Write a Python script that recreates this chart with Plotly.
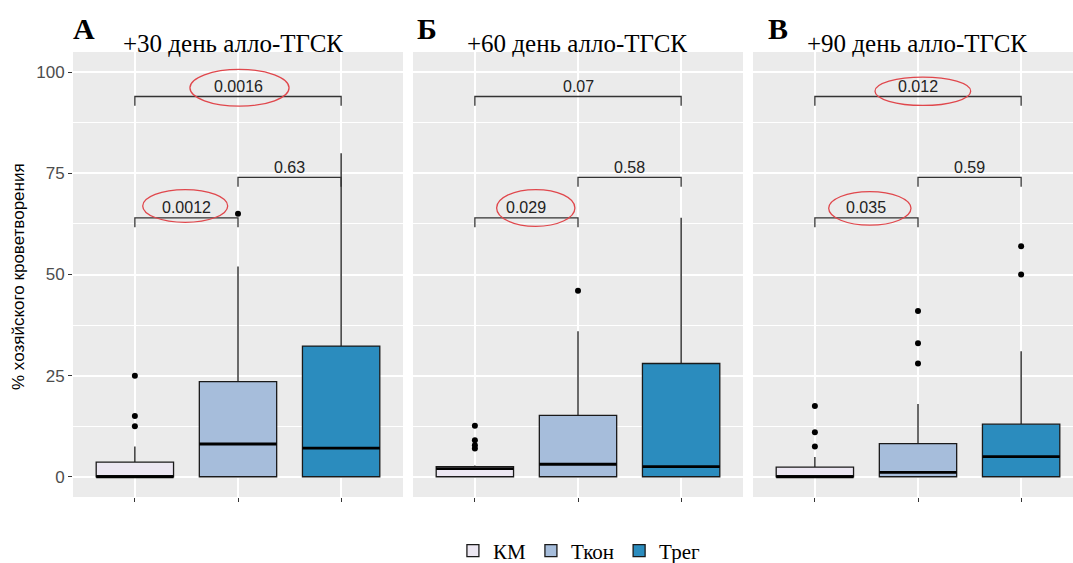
import plotly.graph_objects as go

W, H = 1073, 563

groups = ["КМ", "Ткон", "Трег"]
colors = ["#ECE7F2", "#A6BDDB", "#2B8CBE"]
positions = [1, 2, 3]

panel_letters = ["А", "Б", "В"]
panel_titles = ["+30 день алло-ТГСК", "+60 день алло-ТГСК", "+90 день алло-ТГСК"]

# box statistics per panel: [KM, Tkon, Treg]
q1 = [[0, 0, 0], [0, 0, 0], [0, 0, 0]]
median = [[0, 8.1, 7.1], [2.0, 3.1, 2.5], [0, 1.1, 5.0]]
q3 = [[3.6, 23.5, 32.3], [2.5, 15.2, 28.0], [2.4, 8.2, 13.0]]
lowerfence = [[0, 0, 0], [0, 0, 0], [0, 0, 0]]
upperfence = [[7.5, 52.0, 80.0], [2.8, 36.0, 64.0], [4.9, 18.0, 31.0]]
outliers = [
    [[25, 15, 12.5], [65], []],
    [[12.6, 9.0, 7.8, 7.0], [46], []],
    [[17.5, 11, 7.5], [41, 33, 28], [57, 50]],
]

# significance brackets
bracket_pairs = [(1, 3), (1, 2), (2, 3)]
bracket_heights = [94, 64, 74]
pvalues = [["0.0016", "0.0012", "0.63"], ["0.07", "0.029", "0.58"], ["0.012", "0.035", "0.59"]]
# red ellipses (panel, x0, x1, y0, y1) around significant p-values
ellipses = [
    (0, 1.534, 2.495, 91.6, 100.7),
    (0, 1.076, 1.900, 62.9, 71.0),
    (1, 1.211, 1.970, 61.9, 71.0),
    (2, 1.583, 2.511, 91.8, 98.8),
    (2, 1.134, 1.932, 62.2, 70.5),
]

y_ticks = [0, 25, 50, 75, 100]
y_minor = [12.5, 37.5, 62.5, 87.5]

# layout geometry (px)
panel_left = [73, 413, 753]
panel_w = 330
y_top, y_bot = 52, 497
unit = panel_w / 3.2

fig = go.Figure()
box_w = 0.75

for p in range(3):
    ax = "" if p == 0 else str(p + 1)
    for g in range(3):
        fig.add_trace(go.Box(
            x=[positions[g]], q1=[q1[p][g]], median=[median[p][g]], q3=[q3[p][g]],
            lowerfence=[lowerfence[p][g]], upperfence=[upperfence[p][g]],
            width=box_w, fillcolor=colors[g], line=dict(color="#1a1a1a", width=1.3),
            whiskerwidth=0, boxpoints=False, name=groups[g], legendgroup=groups[g],
            showlegend=(p == 0), xaxis="x" + ax, yaxis="y" + ax, hoverinfo="skip",
        ))
        # thick median line
        fig.add_trace(go.Scatter(
            x=[positions[g] - box_w / 2, positions[g] + box_w / 2],
            y=[median[p][g], median[p][g]], mode="lines",
            line=dict(color="black", width=2.8), showlegend=False,
            xaxis="x" + ax, yaxis="y" + ax, hoverinfo="skip",
        ))
        if outliers[p][g]:
            fig.add_trace(go.Scatter(
                x=[positions[g]] * len(outliers[p][g]), y=outliers[p][g], mode="markers",
                marker=dict(color="black", size=6), showlegend=False,
                xaxis="x" + ax, yaxis="y" + ax, hoverinfo="skip",
            ))
    for b, (a, c) in enumerate(bracket_pairs):
        h = bracket_heights[b]
        fig.add_trace(go.Scatter(
            x=[a, a, c, c], y=[h - 2.3, h, h, h - 2.3], mode="lines",
            line=dict(color="#333333", width=1.3), showlegend=False,
            xaxis="x" + ax, yaxis="y" + ax, hoverinfo="skip",
        ))
        fig.add_annotation(
            x=(a + c) / 2, y=h + 2.5, text=pvalues[p][b], showarrow=False,
            xref="x" + ax, yref="y" + ax, yanchor="middle",
            font=dict(family="Liberation Sans, Arial", size=16, color="#222222"),
        )

for (p, x0, x1, y0, y1) in ellipses:
    ax = "" if p == 0 else str(p + 1)
    fig.add_shape(type="circle", xref="x" + ax, yref="y" + ax,
                  x0=x0, x1=x1, y0=y0, y1=y1,
                  line=dict(color="#E0474C", width=1.3), layer="above")

# panel letters and titles
letter_x = [71, 415, 766]
title_cx = [233, 577, 917]
for p in range(3):
    fig.add_annotation(x=letter_x[p] / W, y=(H - 29) / H, xref="paper", yref="paper",
                       text="<b>%s</b>" % panel_letters[p], showarrow=False,
                       xanchor="left", yanchor="middle",
                       font=dict(family="Liberation Serif, Times New Roman", size=30, color="black"))
    fig.add_annotation(x=title_cx[p] / W, y=(H - 43) / H, xref="paper", yref="paper",
                       text=panel_titles[p], showarrow=False,
                       xanchor="center", yanchor="middle",
                       font=dict(family="Liberation Serif, Times New Roman", size=25, color="black"))

layout = dict(
    width=W, height=H, margin=dict(l=0, r=0, t=0, b=0, autoexpand=False),
    paper_bgcolor="white", plot_bgcolor="#EBEBEB", boxmode="overlay",
    legend=dict(orientation="h", x=0.54, y=(H - 551) / H, xanchor="center", yanchor="middle",
                font=dict(family="Liberation Serif, Times New Roman", size=21, color="black"),
                itemwidth=30, tracegroupgap=0),
)

for p in range(3):
    ax = "" if p == 0 else str(p + 1)
    left = panel_left[p]
    right = min(left + panel_w, W)
    xr = [0.4, 0.4 + (right - left) / unit]
    layout["xaxis" + ax] = dict(
        domain=[left / W, right / W], range=xr, tickvals=positions, showticklabels=False,
        ticks="outside", ticklen=4, tickcolor="#333333", showgrid=True, gridcolor="white",
        gridwidth=1.6, zeroline=False, showline=False, anchor="y" + ax, fixedrange=True,
        automargin=False,
    )
    layout["yaxis" + ax] = dict(
        domain=[(H - y_bot) / H, (H - y_top) / H], range=[-5, 105], tickvals=y_ticks,
        showticklabels=(p == 0), ticks="outside" if p == 0 else "", ticklen=4,
        tickcolor="#333333", showgrid=True, gridcolor="white", gridwidth=1.6,
        zeroline=False, showline=False, anchor="x" + ax, automargin=False,
        tickfont=dict(family="Liberation Sans, Arial", size=17, color="#4D4D4D"),
        minor=dict(tickvals=y_minor, showgrid=True, gridcolor="white", gridwidth=0.8, ticks=""),
    )

fig.update_layout(**layout)
fig.add_annotation(x=18 / W, y=(H - 277) / H, xref="paper", yref="paper",
                   text="% хозяйского кроветворения", showarrow=False, textangle=-90,
                   font=dict(family="Liberation Sans, Arial", size=17, color="black"),
                   xanchor="center", yanchor="middle")

fig.write_html("out.html", config={"displayModeBar": False},
               post_script="document.body.style.margin='0px';document.body.style.overflow='hidden';")
